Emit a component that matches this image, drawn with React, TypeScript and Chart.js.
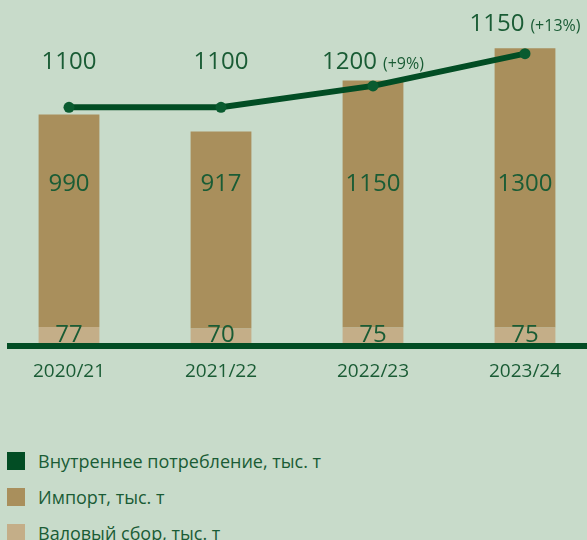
import React, { useEffect, useRef } from "react";
import { Chart, registerables } from "chart.js";

Chart.register(...registerables);

const categories = ["2020/21", "2021/22", "2022/23", "2023/24"];
const grossHarvest = [77, 70, 75, 75];
const imports = [990, 917, 1150, 1300];
const consumption = [1100, 1100, 1200, 1350];
const consumptionLabels = ["1100", "1100", "1200", "1150"];
const consumptionChange = ["", "", "(+9%)", "(+13%)"];
const seriesNames = [
  "Внутреннее потребление, тыс. т",
  "Импорт, тыс. т",
  "Валовый сбор, тыс. т",
];

const BG = "#c8dbca";
const LINE = "#024d24";
const POINT = "#0a5b30";
const IMPORT = "#a98f5c";
const GROSS = "#c4ae88";
const TEXT = "#1a5c35";
const FONT = '"Open Sans", "Noto Sans", sans-serif';
const seriesColors = [LINE, IMPORT, GROSS];

const labelsPlugin = {
  id: "customLabels",
  afterDatasetsDraw(chart: any) {
    const ctx = chart.ctx;
    const y = chart.scales.y;
    const zero = y.getPixelForValue(0);
    ctx.save();
    ctx.fillStyle = LINE;
    ctx.fillRect(14, zero - 0.5, chart.width - 14, 6);

    const lineMeta = chart.getDatasetMeta(0);
    const grossMeta = chart.getDatasetMeta(1);
    const impMeta = chart.getDatasetMeta(2);
    ctx.fillStyle = TEXT;
    ctx.textBaseline = "alphabetic";
    ctx.textAlign = "center";
    ctx.font = `24px ${FONT}`;
    const impBase = y.getPixelForValue(710);
    imports.forEach((v, i) => {
      const bar = impMeta.data[i];
      ctx.fillText(String(v), bar.x, impBase);
    });
    grossHarvest.forEach((v, i) => {
      const bar = grossMeta.data[i];
      ctx.fillText(String(v), bar.x, zero - 2);
    });

    const defaultBase = y.getPixelForValue(1277);
    consumptionLabels.forEach((txt, i) => {
      const pt = lineMeta.data[i];
      let base = defaultBase;
      if (pt.y - 10 < base) base = pt.y - 23;
      ctx.font = `24px ${FONT}`;
      const w1 = ctx.measureText(txt).width;
      const small = consumptionChange[i];
      let w2 = 0;
      const gap = small ? 6 : 0;
      if (small) {
        ctx.font = `16px ${FONT}`;
        w2 = ctx.measureText(small).width;
      }
      const total = w1 + gap + w2;
      const x0 = pt.x - total / 2;
      ctx.textAlign = "left";
      ctx.font = `24px ${FONT}`;
      ctx.fillText(txt, x0, base);
      if (small) {
        ctx.font = `16px ${FONT}`;
        ctx.fillText(small, x0 + w1 + gap, base);
      }
    });
    ctx.restore();
  },
};

export default function App() {
  const ref = useRef<HTMLCanvasElement | null>(null);
  useEffect(() => {
    if (!ref.current) return;
    const chart = new Chart(ref.current, {
      type: "bar",
      data: {
        labels: categories,
        datasets: [
          {
            type: "line",
            label: seriesNames[0],
            data: consumption,
            borderColor: LINE,
            backgroundColor: LINE,
            borderWidth: 6,
            pointRadius: 5.5,
            pointBackgroundColor: POINT,
            pointBorderWidth: 0,
            tension: 0,
            order: 0,
            stack: "line",
          } as any,
          {
            type: "bar",
            label: seriesNames[2],
            data: grossHarvest,
            backgroundColor: GROSS,
            borderWidth: 0,
            barPercentage: 0.4,
            categoryPercentage: 1,
            order: 1,
            stack: "bars",
          },
          {
            type: "bar",
            label: seriesNames[1],
            data: imports,
            backgroundColor: IMPORT,
            borderWidth: 0,
            barPercentage: 0.4,
            categoryPercentage: 1,
            order: 2,
            stack: "bars",
          },
        ],
      },
      options: {
        responsive: false,
        animation: false,
        layout: { padding: 0, autoPadding: false },
        plugins: { legend: { display: false }, tooltip: { enabled: false } },
        scales: {
          x: {
            stacked: true,
            grid: { display: false, drawTicks: false },
            border: { display: false },
            ticks: {
              color: TEXT,
              font: { family: FONT, size: 19 },
              padding: 17,
            },
            afterFit: (scale: any) => {
              scale.height = 56.5;
            },
          },
          y: {
            display: false,
            stacked: true,
            min: 0,
            max: 1600,
          },
        },
      },
      plugins: [labelsPlugin],
    });
    return () => chart.destroy();
  }, []);

  return (
    <div
      style={{
        position: "fixed",
        left: 0,
        top: 0,
        width: 587,
        height: 540,
        overflow: "hidden",
        background: BG,
        fontFamily: FONT,
      }}
    >
      <canvas
        ref={ref}
        width={608}
        height={400}
        style={{ position: "absolute", left: -7, top: 0, width: 608, height: 400 }}
      />
      {seriesNames.map((name, i) => (
        <div
          key={name}
          style={{
            position: "absolute",
            left: 7,
            top: 452 + i * 36,
            height: 18,
            display: "flex",
            alignItems: "center",
            color: TEXT,
            fontSize: 18,
            whiteSpace: "nowrap",
          }}
        >
          <span
            style={{
              display: "inline-block",
              width: 18,
              height: 18,
              background: seriesColors[i],
              marginRight: 13,
            }}
          />
          {name}
        </div>
      ))}
    </div>
  );
}
